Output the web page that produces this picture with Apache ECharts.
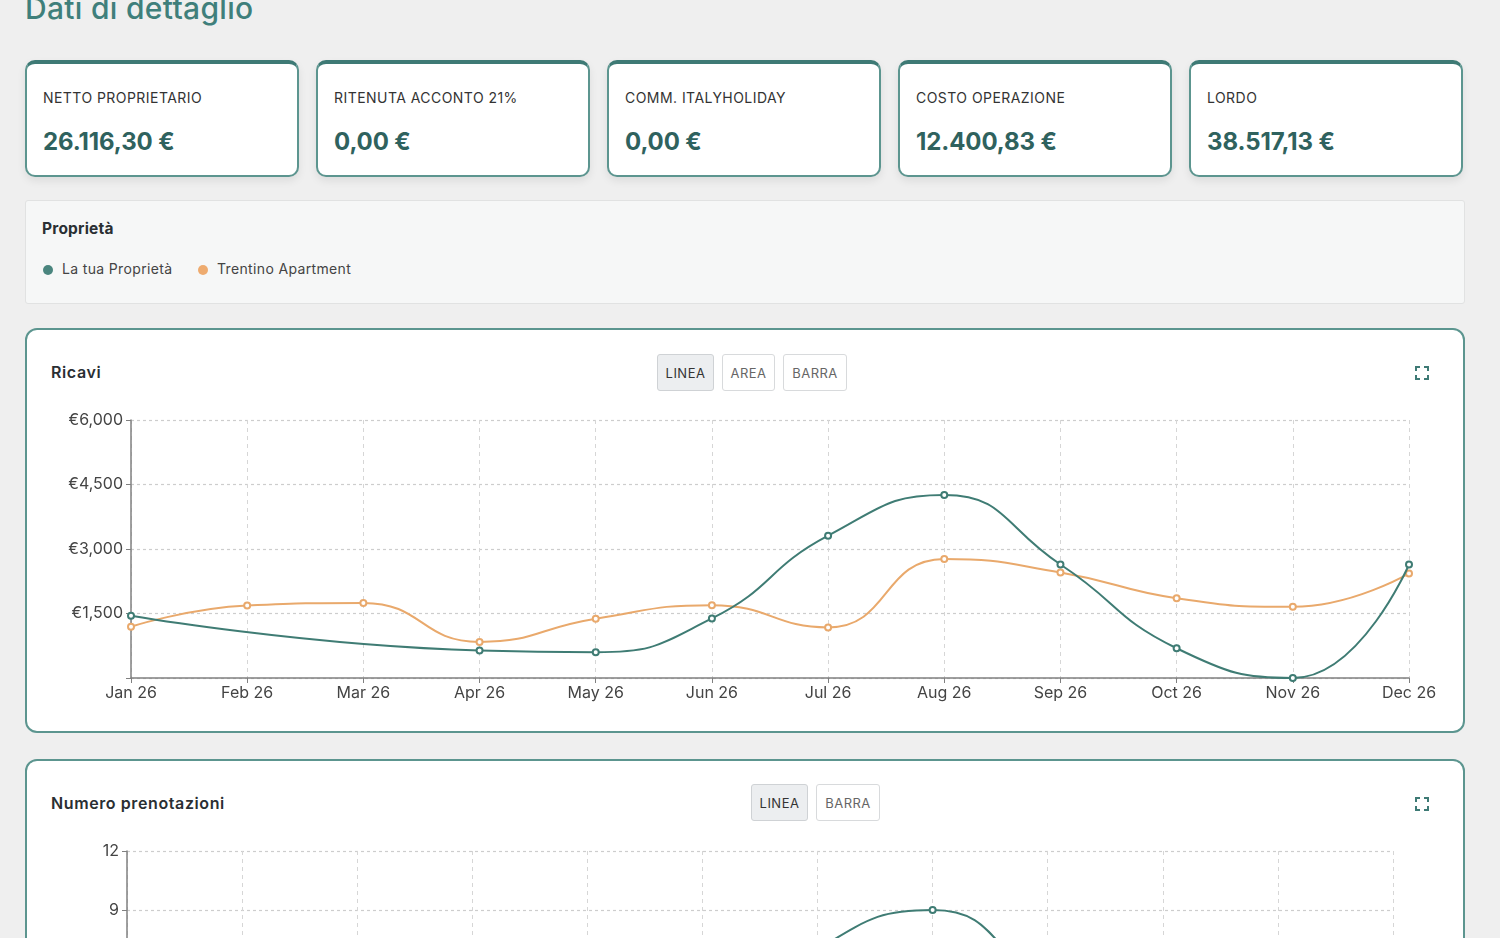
<!DOCTYPE html>
<html><head><meta charset="utf-8">
<script src="https://cdn.jsdelivr.net/npm/echarts@6/dist/echarts.min.js"></script>
<style>
html,body{margin:0;padding:0;width:1500px;height:938px;overflow:hidden;background:#efefef;font-family:Inter,"Noto Sans",sans-serif;}
.abs{position:absolute;}
h1{position:absolute;left:25px;top:-10px;margin:0;font-size:30px;font-weight:500;color:#3f7f7b;letter-spacing:0.3px;}
.card{position:absolute;top:60px;width:270px;height:111px;background:#fff;border:2px solid #5c958f;border-top:4px solid #3e7a75;border-radius:10px;box-shadow:0 4px 8px rgba(0,0,0,0.08);}
.card .lbl{position:absolute;left:16px;top:25px;font-size:14px;color:#333;letter-spacing:0.45px;}
.card .val{position:absolute;left:16px;top:63px;font-size:24px;font-weight:700;color:#2f625e;letter-spacing:-0.1px;}
.props{position:absolute;left:25px;top:200px;width:1438px;height:102px;background:#f6f7f7;border:1px solid #e1e2e2;border-radius:3px;}
.props .t{position:absolute;left:16px;top:18px;font-size:15.5px;font-weight:700;color:#2a2f33;letter-spacing:0.2px;}
.leg{position:absolute;top:59px;font-size:14px;color:#444;letter-spacing:0.35px;}
.leg i{display:inline-block;width:10px;height:10px;border-radius:50%;margin-right:9px;vertical-align:-1px;}
.ccard{position:absolute;left:25px;width:1436px;background:#fff;border:2px solid #5c958f;border-radius:12px;}
.ctitle{position:absolute;font-size:16px;font-weight:600;color:#2a2f33;letter-spacing:0.6px;}
.btn{position:absolute;height:37px;line-height:37px;border:1px solid #d8dadc;border-radius:3px;background:#fff;font-size:13px;color:#666;text-align:center;letter-spacing:0.5px;box-sizing:border-box;}
.btn.on{background:#eceef0;color:#333;border-color:#cfd2d5;}
</style></head>
<body>
<h1>Dati di dettaglio</h1>
<div id="cards"></div>
<div class="props"><div class="t">Proprietà</div>
<div class="leg" style="left:17px"><i style="background:#4a857e"></i>La tua Proprietà</div>
<div class="leg" style="left:172px"><i style="background:#eeab6f"></i>Trentino Apartment</div>
</div>

<div class="ccard" style="top:328px;height:401px;"></div>
<div class="ctitle" style="left:51px;top:362px;">Ricavi</div>
<div class="btn on" style="left:657px;top:354px;width:57px;">LINEA</div>
<div class="btn" style="left:722px;top:354px;width:53px;">AREA</div>
<div class="btn" style="left:783px;top:354px;width:64px;">BARRA</div>
<svg class="abs" style="left:1415px;top:366px" width="14" height="14" viewBox="0 0 14 14" fill="none" stroke="#3e7a75" stroke-width="2"><path d="M1 5V1H5M9 1H13V5M13 9V13H9M5 13H1V9"/></svg>
<div id="c1" class="abs" style="left:25px;top:330px;width:1439px;height:400px;"></div>

<div class="ccard" style="top:759px;height:420px;"></div>
<div class="ctitle" style="left:51px;top:793px;">Numero prenotazioni</div>
<div class="btn on" style="left:751px;top:784px;width:57px;">LINEA</div>
<div class="btn" style="left:816px;top:784px;width:64px;">BARRA</div>
<svg class="abs" style="left:1415px;top:797px" width="14" height="14" viewBox="0 0 14 14" fill="none" stroke="#3e7a75" stroke-width="2"><path d="M1 5V1H5M9 1H13V5M13 9V13H9M5 13H1V9"/></svg>
<div id="c2" class="abs" style="left:25px;top:761px;width:1439px;height:400px;"></div>

<script>
// KPI cards
const kpiLabels = ['NETTO PROPRIETARIO','RITENUTA ACCONTO 21%','COMM. ITALYHOLIDAY','COSTO OPERAZIONE','LORDO'];
const kpiValues = ['26.116,30 €','0,00 €','0,00 €','12.400,83 €','38.517,13 €'];

// Ricavi chart
const months = ['Jan 26','Feb 26','Mar 26','Apr 26','May 26','Jun 26','Jul 26','Aug 26','Sep 26','Oct 26','Nov 26','Dec 26'];
const ricaviTua = [1447, null, null, 639, 600, 1385, 3309, 4255, 2640, 692, 0, 2640];
const ricaviTrentino = [1193, 1685, 1747, 840, 1378, 1694, 1177, 2769, 2455, 1855, 1655, 2432];
const ricaviMax = 6000, ricaviStep = 1500;

// Numero prenotazioni chart (lower part is outside the view; estimated)
const prenTua = [1, null, null, 1, 1, 2, 7, 9, 5, 1, 0, 3];
const prenTrentino = [2, 3, 3, 1, 2, 3, 2, 5, 4, 3, 3, 4];
const prenMax = 12, prenStep = 3;

const names = ['La tua Proprietà','Trentino Apartment'];
const colors = ['#3f7c74','#e9a96c'];

const cardsEl = document.getElementById('cards');
kpiLabels.forEach((l,i)=>{
  const d=document.createElement('div');d.className='card';d.style.left=(25+i*291)+'px';
  d.innerHTML='<div class="lbl">'+l+'</div><div class="val">'+kpiValues[i]+'</div>';
  cardsEl.appendChild(d);
});

function makeOpt(data1,data2,max,step,fmt,gridLeft,gridW,gridH){
  const mk=(name,data,color,z)=>({name,type:'line',data,smooth:true,connectNulls:true,symbol:'emptyCircle',symbolSize:6,z,
    lineStyle:{width:2,color},itemStyle:{color,borderWidth:1.5},emphasis:{disabled:true}});
  return {
    animation:false,
    grid:{left:gridLeft,top:90,width:gridW,height:gridH,containLabel:false},
    xAxis:{type:'category',data:months,boundaryGap:false,
      axisLine:{lineStyle:{color:'#808080',width:1.5}},axisTick:{show:true,length:5,lineStyle:{color:'#808080'}},
      axisLabel:{color:'#444',fontSize:16,fontFamily:'Inter',margin:7},
      splitLine:{show:true,lineStyle:{type:[4,4],color:'#d6d6d6'}}},
    yAxis:{type:'value',min:0,max:max,interval:step,
      axisLine:{show:true,lineStyle:{color:'#808080',width:1.5}},axisTick:{show:true,length:5,lineStyle:{color:'#808080'}},
      axisLabel:{color:'#444',fontSize:16,fontFamily:'Inter',margin:8,formatter:fmt},
      splitLine:{show:true,lineStyle:{type:[3,3],color:'#cdcdcd',width:1.2}}},
    series:[mk(names[0],data1,colors[0],3),mk(names[1],data2,colors[1],2)]
  };
}
const c1=echarts.init(document.getElementById('c1'));
c1.setOption(makeOpt(ricaviTua,ricaviTrentino,ricaviMax,ricaviStep,
  v=>v===0?'':'€'+v.toLocaleString('en-US'),106,1278,258));
const c2=echarts.init(document.getElementById('c2'));
c2.setOption(makeOpt(prenTua,prenTrentino,prenMax,prenStep,
  v=>v===0?'':String(v),102,1266,236));
</script>
</body></html>
